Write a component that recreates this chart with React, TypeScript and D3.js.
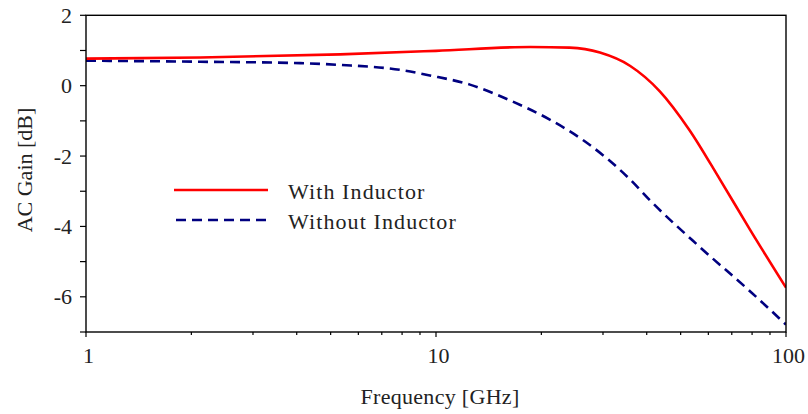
import React from "react";
import * as d3 from "d3";

const freqWith = [1, 2.12, 5.32, 10, 18.6, 24.1, 29.4, 35.9, 43.6, 52.9, 64.8, 78.9, 100];
const gainWith = [0.77, 0.8, 0.89, 0.99, 1.1, 1.08, 0.94, 0.56, -0.16, -1.25, -2.67, -4.09, -5.74];

const freqWithout = [1, 2.12, 4.09, 5.32, 7.89, 9.61, 12.5, 16.3, 21.2, 26.6, 35.9, 40.9, 56.5, 78.9, 100];
const gainWithout = [0.71, 0.68, 0.64, 0.59, 0.45, 0.29, 0.03, -0.42, -0.97, -1.58, -2.67, -3.26, -4.57, -5.84, -6.79];

const xMajorTicks = [1, 10, 100];
const xMinorTicks = [2, 3, 4, 5, 6, 7, 8, 9, 20, 30, 40, 50, 60, 70, 80, 90];
const yMajorTicks = [2, 0, -2, -4, -6];
const yMinorTicks = [1, -1, -3, -5, -7];

const seriesNames = ["With Inductor", "Without Inductor"];

export default function App() {
  const W = 808, H = 414;
  const left = 86, right = 786, top = 15.3, bottom = 332;
  const x = d3.scaleLog().domain([1, 100]).range([left, right]);
  const y = d3.scaleLinear().domain([-7, 2]).range([bottom, top]);
  const line = d3
    .line<[number, number]>()
    .x((d) => x(d[0]))
    .y((d) => y(d[1]))
    .curve(d3.curveMonotoneX);
  const dWith = line(freqWith.map((f, i) => [f, gainWith[i]] as [number, number])) || "";
  const dWithout = line(freqWithout.map((f, i) => [f, gainWithout[i]] as [number, number])) || "";
  const tStyle: React.CSSProperties = { fontFamily: "Liberation Serif", fontSize: "22px" };
  const legStyle: React.CSSProperties = { ...tStyle, letterSpacing: "1.1px" };

  return (
    <svg width={W} height={H} style={{ position: "absolute", left: 0, top: 0, background: "#fff" }}>
      <rect x={0} y={0} width={W} height={H} fill="#fff" />
      <defs>
        <clipPath id="plot">
          <rect x={left} y={top} width={right - left} height={bottom - top} />
        </clipPath>
      </defs>
      <g clipPath="url(#plot)">
        <path d={dWithout} fill="none" stroke="#000080" strokeWidth={2.6} strokeDasharray="10,6" />
        <path d={dWith} fill="none" stroke="#ff0000" strokeWidth={2.6} />
      </g>
      <rect x={left} y={top} width={right - left} height={bottom - top} fill="none" stroke="#000" strokeWidth={1.4} />
      {yMajorTicks.map((t) => (
        <g key={"ym" + t}>
          <line x1={left - 6} x2={left} y1={y(t)} y2={y(t)} stroke="#000" strokeWidth={1.2} />
          <text x={72} y={y(t) + 7.5} textAnchor="end" style={tStyle} fill="#222">
            {t < 0 ? "-" + Math.abs(t) : String(t)}
          </text>
        </g>
      ))}
      {yMinorTicks.map((t) => (
        <line key={"yn" + t} x1={left - 6} x2={left} y1={y(t)} y2={y(t)} stroke="#000" strokeWidth={1.2} />
      ))}
      {xMajorTicks.map((t) => (
        <g key={"xm" + t}>
          <line x1={x(t)} x2={x(t)} y1={bottom} y2={bottom + 5} stroke="#000" strokeWidth={1.2} />
          <text x={x(t) + 2.5} y={363} textAnchor="middle" style={tStyle} fill="#222">
            {String(t)}
          </text>
        </g>
      ))}
      {xMinorTicks.map((t) => (
        <line key={"xn" + t} x1={x(t)} x2={x(t)} y1={bottom} y2={bottom + 3} stroke="#000" strokeWidth={1.2} />
      ))}
      <text x={440} y={404} textAnchor="middle" style={{ ...tStyle, letterSpacing: "0.3px" }} fill="#222">
        Frequency [GHz]
      </text>
      <text transform="translate(32,170) rotate(-90)" textAnchor="middle" style={tStyle} fill="#222">
        AC Gain [dB]
      </text>
      <line x1={174} x2={268} y1={190} y2={190} stroke="#ff0000" strokeWidth={2.6} />
      <line x1={176} x2={268} y1={220} y2={220} stroke="#000080" strokeWidth={2.6} strokeDasharray="10,6" />
      <text x={288} y={199} style={legStyle} fill="#222">{seriesNames[0]}</text>
      <text x={288} y={229} style={legStyle} fill="#222">{seriesNames[1]}</text>
    </svg>
  );
}
